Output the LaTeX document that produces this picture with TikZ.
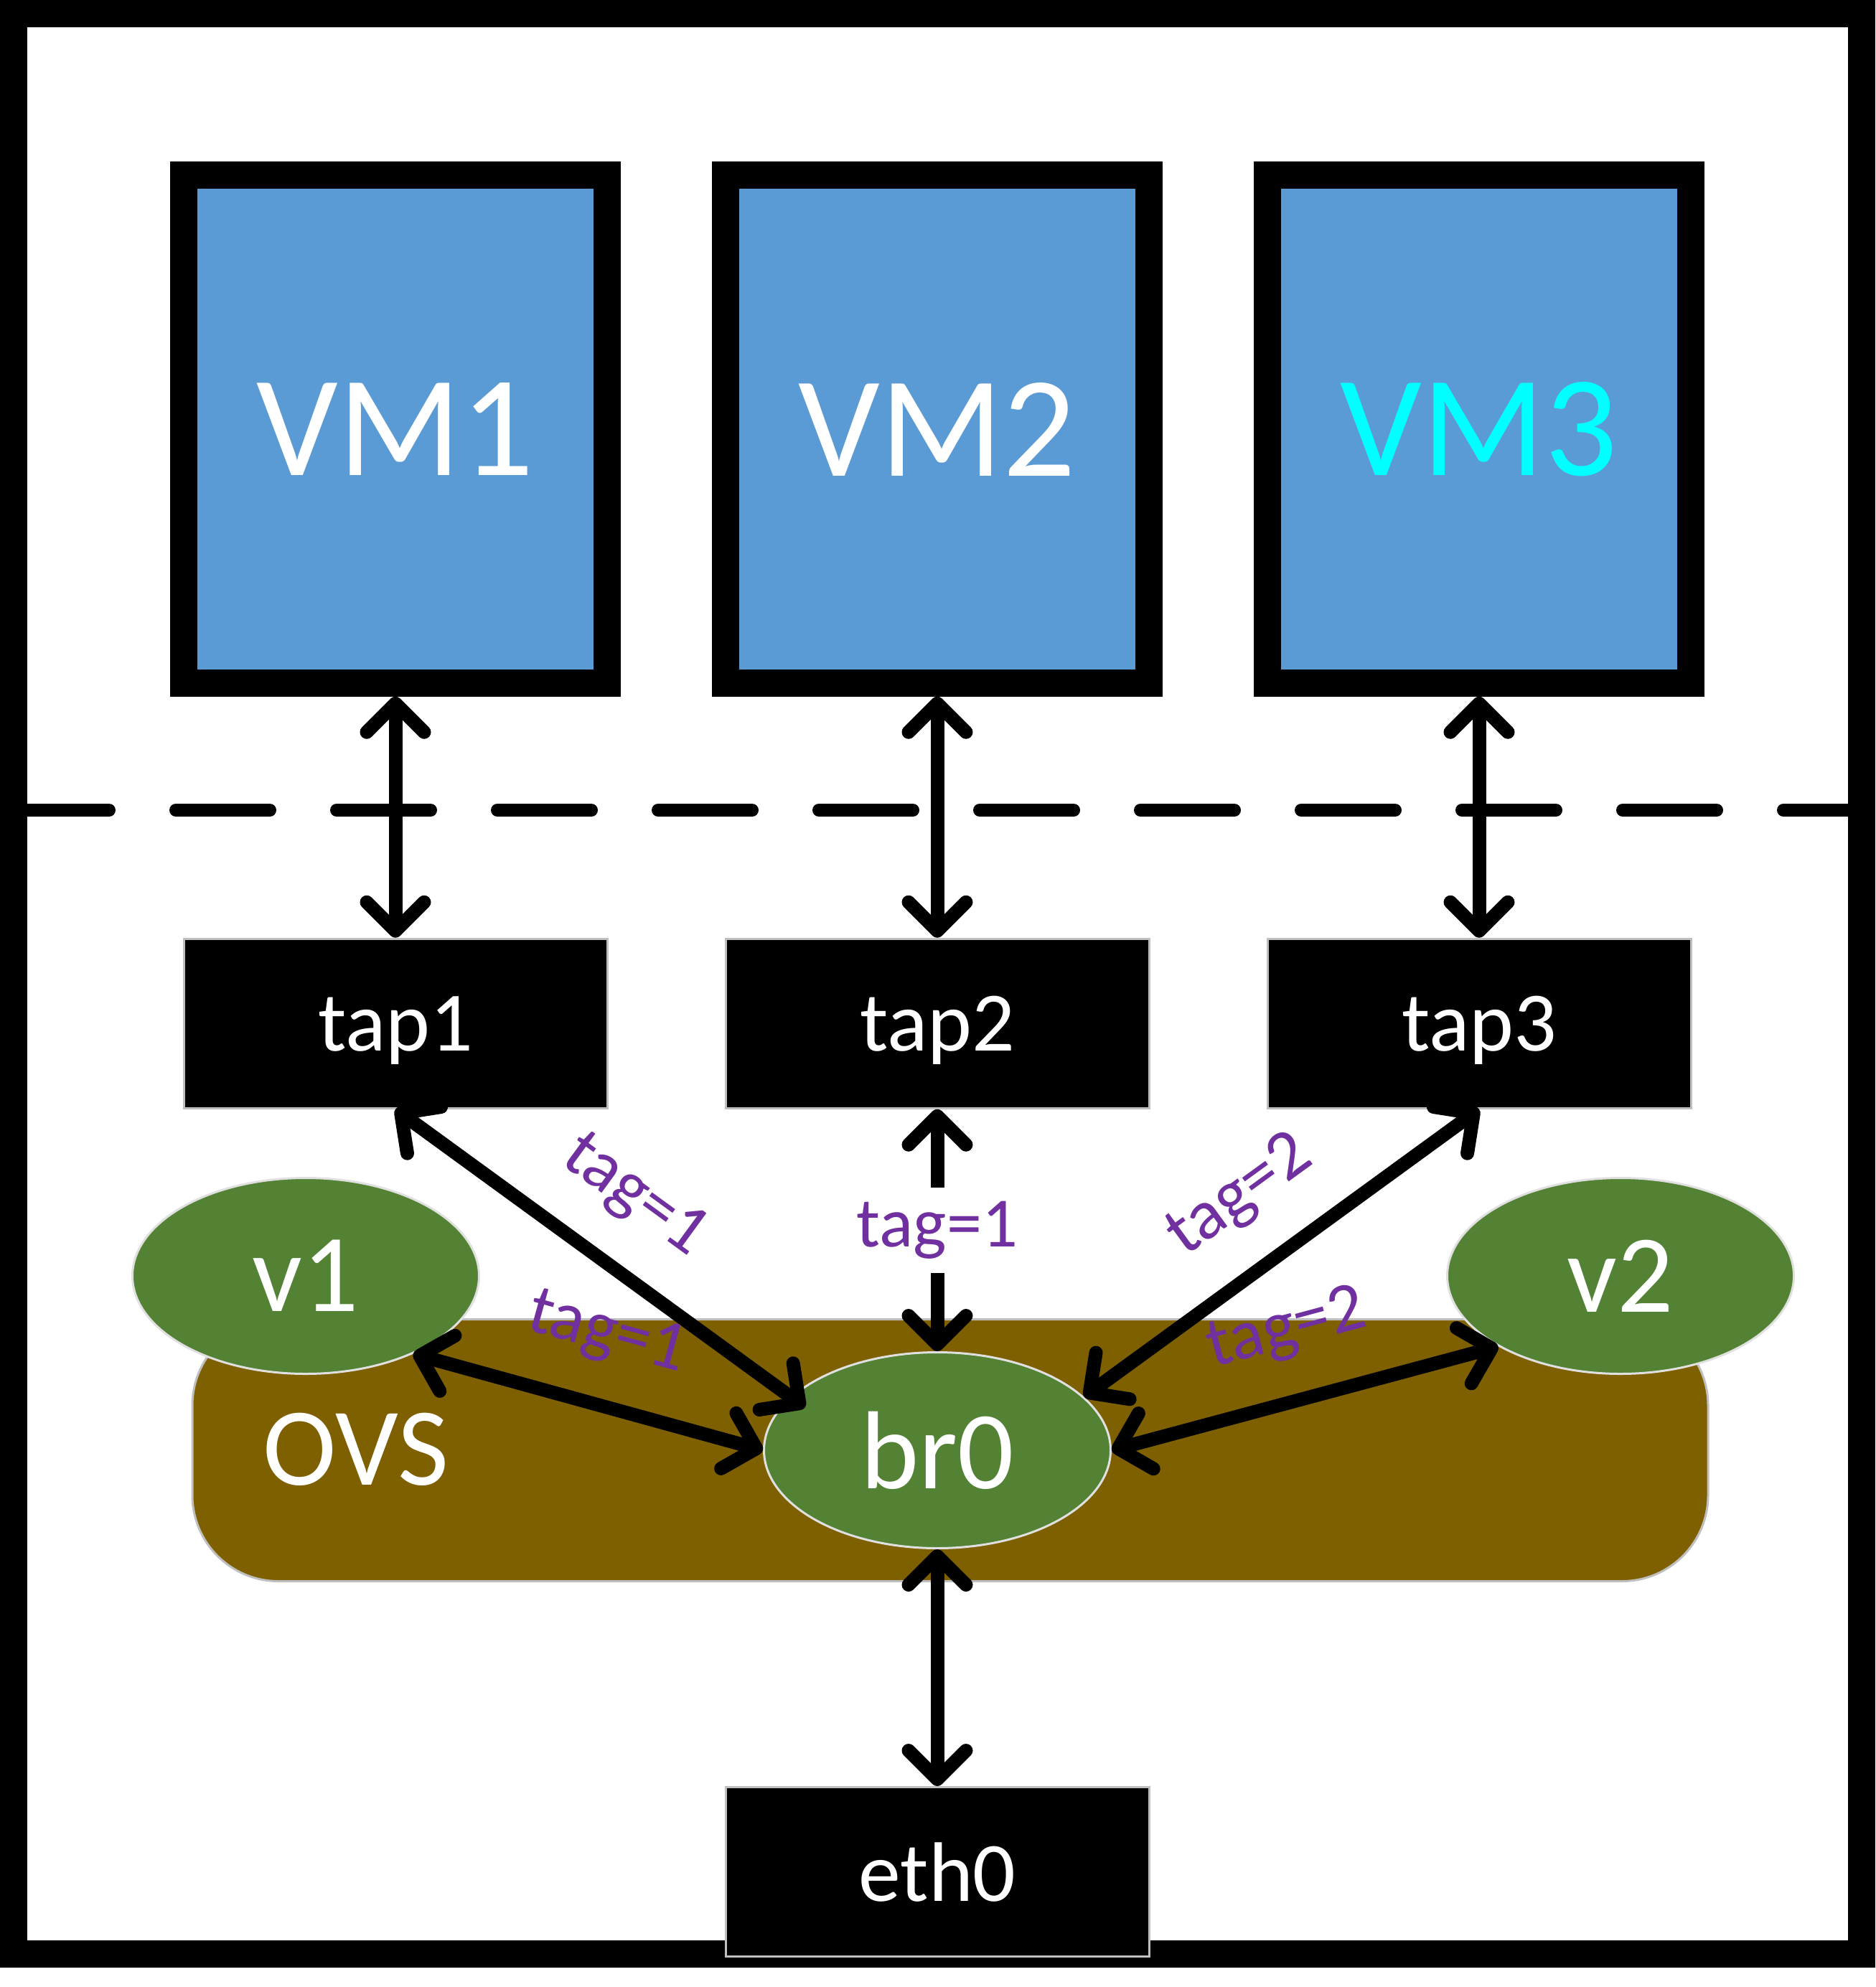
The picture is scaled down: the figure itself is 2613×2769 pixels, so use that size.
\documentclass[tikz,border=0pt]{standalone}
\usepackage{fontspec}
\setmainfont{Carlito}
\usepackage{tikz}
\usetikzlibrary{positioning,shapes.geometric,arrows.meta}

\definecolor{vmblue}{HTML}{5B9BD5}
\definecolor{vmcyan}{HTML}{00FFFF}
\definecolor{portgreen}{HTML}{548235}
\definecolor{ovsbrown}{HTML}{7F6000}
\definecolor{tagpurple}{HTML}{7030A0}

\tikzset{
	vmbox/.style={draw=black, line width=3.75mm, fill=vmblue, minimum width=59mm, minimum height=70.8mm, text=white, font=\fontsize{57}{60}\selectfont},
	tapbox/.style={draw=black!25, line width=0.3mm, fill=black, minimum width=59mm, minimum height=23.6mm, text depth=0pt, text=white, font=\fontsize{33.5}{36}\selectfont},
	port/.style={ellipse, draw=black!12, line width=0.3mm, fill=portgreen, minimum width=48.3mm, minimum height=27.3mm, inner sep=0pt, text=white, font=\fontsize{44}{48}\selectfont},
	link/.style={line width=1.9mm, {Straight Barb[length=4mm,width=8mm,round]}-{Straight Barb[length=4mm,width=8mm,round]}},
	tag/.style={text=tagpurple, inner sep=0pt, font=\fontsize{28}{30}\selectfont},
}

\begin{document}
\begin{tikzpicture}[x=0.1mm, y=-0.1mm]
	\useasboundingbox (0,0) rectangle (2613,2769);
	\draw[line width=3.8mm] (19,19) rectangle (2594,2723);
	\draw[line width=1.8mm, line cap=round, dash pattern=on 13.1mm off 9.3mm] (21,1129) -- (2594,1129);

	\node[draw=black!25, line width=0.3mm, fill=ovsbrown, rounded corners=12mm, minimum width=211.2mm, minimum height=36.5mm] (ovs) at (1324,2021) {};
	\node[text=white, font=\fontsize{44}{48}\selectfont] (ovslabel) at (496,2020) {OVS};

	\node[port] (v1) at (426,1778) {v1};
	\node[port] (v2) at (2258,1778) {v2};
	\node[port] (br0) at (1306,2021) {br0};

	\node[vmbox] (vm1) at (551,598) {VM1};
	\node[vmbox] (vm2) at (1306,598) {VM2};
	\node[vmbox, text=vmcyan] (vm3) at (2061,598) {VM3};

	\node[tapbox, below=33.6mm of vm1] (tap1) {tap1};
	\node[tapbox, below=33.6mm of vm2] (tap2) {tap2};
	\node[tapbox, below=33.6mm of vm3] (tap3) {tap3};
	\node[tapbox, below=33mm of br0] (eth0) {eth0};

	\draw[link] (vm1.south) -- (tap1.north);
	\draw[link] (vm2.south) -- (tap2.north);
	\draw[link] (vm3.south) -- (tap3.north);
	\draw[link, shorten >=-2.5mm] (tap1.south) -- (br0.160)
		node[tag, midway, sloped, above=4.8mm] {tag=1};
	\draw[link] (tap2.south) -- (br0.north)
		node[tag, midway, fill=white, inner xsep=1mm, inner ysep=1.9mm] {tag=1};
	\draw[link] (br0.20) -- (tap3.south)
		node[tag, midway, sloped, above=4.8mm] {tag=2};
	\draw[link] (v1.-36) -- (br0.west)
		node[tag, midway, sloped, above=4.8mm] {tag=1};
	\draw[link] (br0.east) -- (v2.-150)
		node[tag, midway, sloped, above=4.8mm] {tag=2};
	\draw[link] (br0.south) -- (eth0.north);
\end{tikzpicture}
\end{document}
